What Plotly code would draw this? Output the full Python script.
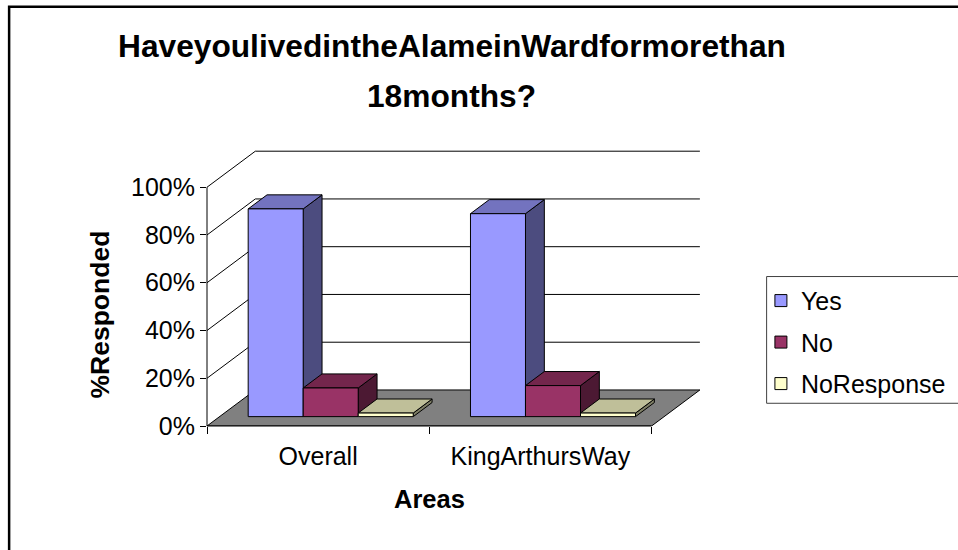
import plotly.graph_objects as go

# ---------------- data ----------------
categories = ["Overall", "KingArthursWay"]
series_names = ["Yes", "No", "NoResponse"]
yes_pct = [87, 85]
no_pct = [12, 13]
no_response_pct = [1.5, 1.5]
y_tick_vals = [0, 20, 40, 60, 80, 100]
y_tick_text = ["0%", "20%", "40%", "60%", "80%", "100%"]

title_line1 = "HaveyoulivedintheAlameinWardformorethan"
title_line2 = "18months?"
x_title = "Areas"
y_title = "%Responded"

# ---------------- styles / geometry ----------------
FONT = "Liberation Sans, Arial, sans-serif"
front_col = ["#9999FF", "#993366", "#FFFFCC"]
top_col = ["#7373BF", "#73264C", "#BFBF99"]
side_col = ["#4C4C7F", "#4C1933", "#7F7F66"]
FLOOR = "#808080"

FW, FH = 958, 550
X0PX, Y0PX = 207.3, 426.0        # pixel of the front-left origin
PX_PER_X = 222.2                 # pixels per category unit
PX_PER_Y = 2.385                 # pixels per percent
DEPTH_DX_PX, DEPTH_DY_PX = 48.3, 36.0
dxu = DEPTH_DX_PX / PX_PER_X
dyu = DEPTH_DY_PX / PX_PER_Y
n_cat = len(categories)
xmax = n_cat + dxu + 0.005
ymax = 100 + dyu + 0.5
plot_w = xmax * PX_PER_X
plot_h = ymax * PX_PER_Y
ml = X0PX
mb = FH - Y0PX
mr = FW - ml - plot_w
mt = FH - mb - plot_h


def pxx(p):
    return (p - X0PX) / plot_w


def pyy(p):
    return (Y0PX - p) / plot_h


BAR_W = 0.2475
F0, F1 = 0.26, 0.65
base = F0 * dyu
shiftx = F0 * dxu
ddx = (F1 - F0) * dxu
ddy = (F1 - F0) * dyu

fig = go.Figure()
shapes = []


def poly(pts, fill, lw=1):
    d = "M " + " L ".join(f"{x},{y}" for x, y in pts) + " Z"
    return dict(type="path", path=d, xref="x", yref="y", fillcolor=fill,
                line=dict(color="black", width=lw), layer="below")


# floor
shapes.append(poly([(0, 0), (n_cat, 0), (n_cat + dxu, dyu), (dxu, dyu)], FLOOR))
# left wall diagonals and back wall gridlines
for v in y_tick_vals[1:]:
    shapes.append(dict(type="line", xref="x", yref="y", x0=0, y0=v, x1=dxu, y1=v + dyu,
                       line=dict(color="black", width=1), layer="below"))
    shapes.append(dict(type="line", xref="x", yref="y", x0=dxu, y0=v + dyu,
                       x1=n_cat + dxu, y1=v + dyu,
                       line=dict(color="black", width=1), layer="below"))

xc = [i + 0.5 for i in range(n_cat)]
series_vals = [yes_pct, no_pct, no_response_pct]
bar_shapes = []
for k, (name, vals) in enumerate(zip(series_names, series_vals)):
    off = shiftx + (k - 1.5) * BAR_W
    fig.add_bar(x=xc, y=vals, base=base, width=BAR_W, offset=off, name=name,
                legendgroup=name, hoverinfo="skip",
                marker=dict(color=front_col[k], line=dict(color="black", width=1)))
    for i in range(n_cat):
        xl = xc[i] + off
        xr = xl + BAR_W
        yb = base
        yt = base + vals[i]
        bar_shapes.append((i, k, poly([(xr, yb), (xr + ddx, yb + ddy), (xr + ddx, yt + ddy), (xr, yt)], side_col[k])))
        bar_shapes.append((i, k, poly([(xl, yt), (xr, yt), (xr + ddx, yt + ddy), (xl + ddx, yt + ddy)], top_col[k])))
bar_shapes.sort(key=lambda t: (t[0], t[1]))
shapes += [s for _, _, s in bar_shapes]

# front axis lines
shapes.append(dict(type="line", xref="paper", yref="y", x0=0, x1=0, y0=0, y1=100,
                   line=dict(color="black", width=1)))
shapes.append(dict(type="line", xref="x", yref="paper", x0=0, x1=n_cat, y0=0, y1=0,
                   line=dict(color="black", width=1)))
# outer frame
shapes.append(dict(type="rect", xref="paper", yref="paper", x0=pxx(9.5), y0=-0.7,
                   x1=1.7, y1=pyy(7.2), line=dict(color="black", width=2.5)))
# legend box
shapes.append(dict(type="rect", xref="paper", yref="paper", x0=pxx(766.7), y0=pyy(403.3),
                   x1=pxx(990), y1=pyy(276.7), line=dict(color="#404040", width=1),
                   fillcolor="rgba(0,0,0,0)", layer="above"))

annotations = [
    dict(text=f"<b>{title_line1}</b>", x=pxx(452), y=pyy(46.5), xref="paper", yref="paper",
         showarrow=False, xanchor="center", yanchor="middle", font=dict(size=31.7, family=FONT, color="black")),
    dict(text=f"<b>{title_line2}</b>", x=pxx(452), y=pyy(96.5), xref="paper", yref="paper",
         showarrow=False, xanchor="center", yanchor="middle", font=dict(size=31.7, family=FONT, color="black")),
    dict(text=f"<b>{x_title}</b>", x=n_cat / 2, y=pyy(499), xref="x", yref="paper",
         showarrow=False, xanchor="center", yanchor="middle", font=dict(size=25.5, family=FONT, color="black")),
    dict(text=f"<b>{y_title}</b>", x=pxx(100), y=pyy(315), xref="paper", yref="paper",
         showarrow=False, textangle=-90, xanchor="center", yanchor="middle",
         font=dict(size=26.5, family=FONT, color="black")),
]

fig.update_layout(
    width=FW, height=FH,
    margin=dict(l=ml, r=mr, t=mt, b=mb, autoexpand=False),
    paper_bgcolor="white", plot_bgcolor="white",
    barmode="overlay",
    font=dict(family=FONT, size=25, color="black"),
    shapes=shapes,
    annotations=annotations,
    showlegend=True,
    legend=dict(x=pxx(761), y=pyy(278), xanchor="left", yanchor="top",
                borderwidth=0, bgcolor="rgba(0,0,0,0)",
                font=dict(size=25, family=FONT, color="black"),
                traceorder="grouped", tracegroupgap=6),
    xaxis=dict(range=[0, xmax], showgrid=False, zeroline=False, showline=False,
               tickmode="array", tickvals=xc, ticktext=categories,
               ticks="outside", ticklen=8, tickcolor="rgba(0,0,0,0)",
               tickfont=dict(size=25, family=FONT, color="black"),
               minor=dict(tickmode="array", tickvals=list(range(n_cat + 1)), ticks="outside",
                          ticklen=7, tickcolor="black", tickwidth=1, showgrid=False),
               fixedrange=True),
    yaxis=dict(range=[0, ymax], showgrid=False, zeroline=False, showline=False,
               tickmode="array", tickvals=y_tick_vals, ticktext=y_tick_text,
               ticks="outside", ticklen=6, tickcolor="black", tickwidth=1,
               tickfont=dict(size=25, family=FONT, color="black"),
               fixedrange=True),
)

fig.write_html("out.html", config={"displayModeBar": False},
               post_script="document.body.style.margin='0px';document.body.style.overflow='hidden';")
